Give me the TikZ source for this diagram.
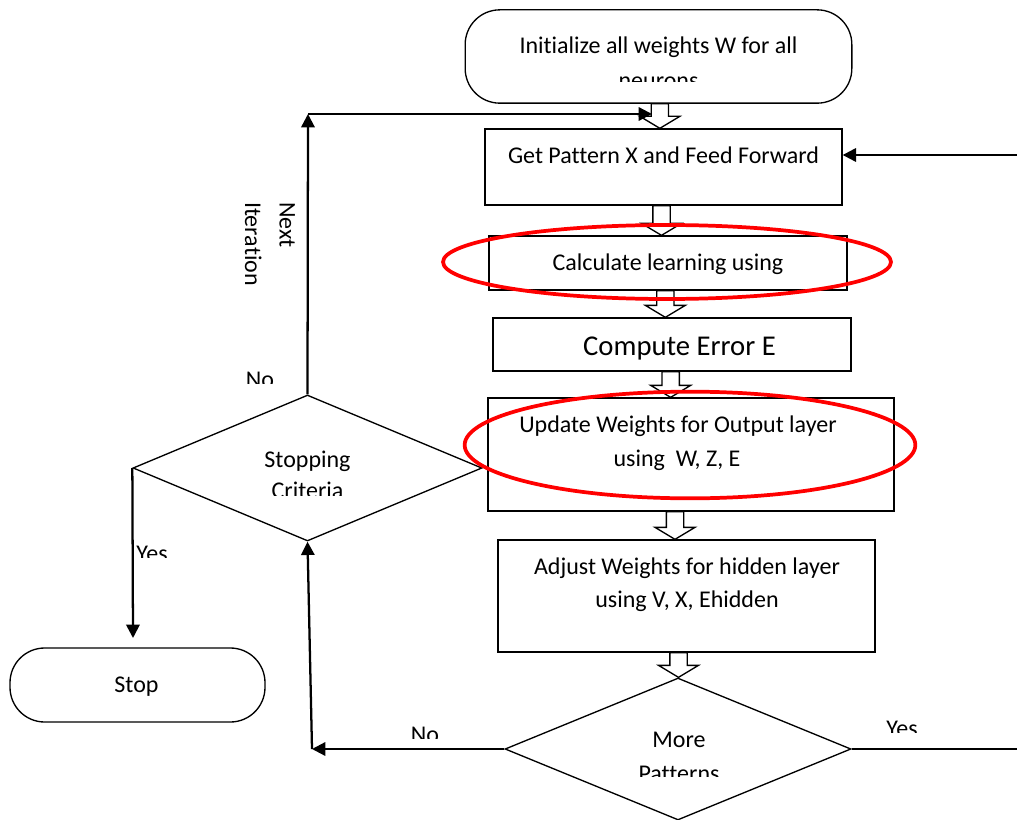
\documentclass[tikz,border=0pt]{standalone}
\usepackage{fontspec}
\setmainfont{Carlito}[Ligatures={NoCommon}]
\usetikzlibrary{shapes.geometric,arrows.meta,calc}

\tikzset{
  procbox/.style={draw, line width=1pt, inner sep=0pt, font=\fontsize{18}{26}\selectfont},
  termbox/.style={draw, line width=1pt, rounded corners=26pt, inner sep=0pt, font=\fontsize{18}{26}\selectfont},
  decision/.style={draw, diamond, line width=1pt, inner sep=0pt},
  txt/.style={anchor=base, inner sep=0pt, font=\fontsize{18}{26}\selectfont},
  flow/.style={line width=1.7pt, -{Triangle[length=10pt,width=10pt]}},
  plainflow/.style={line width=1.7pt},
  blockarr/.style={draw, line width=1pt, fill=white},
  redring/.style={draw=red, line width=2.8pt},
}

% hollow block arrow: #1 x offset, #2 upper node, #3 lower node
\newcommand{\hollowdown}[3]{%
  \draw[blockarr] let \p1=($(#2.south)+(#1,0pt)$), \p2=(#3.north) in
    (\x1-6.5pt,\y1) -- (\x1+6.5pt,\y1) -- (\x1+6.5pt,\y2+9pt) -- (\x1+15pt,\y2+9pt)
    -- (\x1,\y2) -- (\x1-15pt,\y2+9pt) -- (\x1-6.5pt,\y2+9pt) -- cycle;}

\begin{document}
\begin{tikzpicture}[x=0.75pt, y=-0.75pt]
\useasboundingbox (0,0) rectangle (1017,820);

% start box
\node[termbox, minimum width=290pt, minimum height=70pt] (init) at (658.5,56.5) {};
\node[txt] (initA) at (658.5,54) {Initialize all weights W for all};
\begin{scope}
  \clip (470,60) rectangle (850,82);
  \node[txt] (initB) at (658.5,89) {neurons};
\end{scope}

% process boxes
\node[procbox, minimum width=267.75pt, minimum height=57pt] (get) at (663.5,167) {};
\node[txt] (getT) at (663.5,164) {Get Pattern X and Feed Forward};

\node[procbox, minimum width=268.5pt, minimum height=40.5pt] (calc) at (668,263) {};
\node[txt] (calcT) at (668,270) {Calculate learning using};

\node[procbox, minimum width=268.5pt, minimum height=39.75pt] (comp) at (672,344.5) {};
\node[txt, font=\fontsize{21.5}{26}\selectfont] (compT) at (679.5,355) {Compute Error E};

\node[procbox, minimum width=304.5pt, minimum height=84.75pt] (upd) at (691,454.5) {};
\node[txt] (updA) at (678,432) {Update Weights for Output layer};
\node[txt] (updB) at (677,466) {using~~W, Z, E};

\node[procbox, minimum width=282.75pt, minimum height=84pt] (adj) at (686.5,596) {};
\node[txt] (adjA) at (687,574) {Adjust Weights for hidden layer};
\node[txt] (adjB) at (687,607) {using V, X, Ehidden};

% decisions
\node[decision, minimum width=261.75pt, minimum height=109.5pt] (crit) at (307.5,468) {};
\node[txt] (critA) at (307.5,467) {Stopping};
\begin{scope}
  \clip (200,470) rectangle (420,495);
  \node[txt] (critB) at (307.5,498) {Criteria};
\end{scope}

\node[decision, minimum width=259.5pt, minimum height=106.5pt] (more) at (678,749) {};
\node[txt] (moreA) at (679,747) {More};
\begin{scope}
  \clip (580,755) rectangle (780,776);
  \node[txt] (moreB) at (679,781) {Patterns};
\end{scope}

% stop box
\node[termbox, minimum width=191.25pt, minimum height=55.5pt] (stop) at (137.5,685) {};
\node[txt] (stopT) at (136.5,692) {Stop};

% block arrows between the steps
\hollowdown{1pt}{init}{get}
\hollowdown{-1.5pt}{get}{calc}
\hollowdown{-2pt}{calc}{comp}
\hollowdown{-1pt}{comp}{upd}
\hollowdown{-12pt}{upd}{adj}
\hollowdown{-6pt}{adj}{more}

% loop back
\coordinate (topL) at (308,114);
\coordinate (feedin) at (652,114);
\coordinate (loopR) at (1017,155);
\coordinate (moreR) at (1017,749);
\coordinate (moreL) at (312,749);
\coordinate (stopin) at (133,638);

\draw[flow] (crit.north) -- (topL);
\draw[flow] (topL) -- (feedin);
\draw[flow] (loopR) -- (loopR -| get.east);
\draw[plainflow] (more.east) -- (moreR);
\draw[flow] (more.west) -- (moreL);
\draw[flow] (moreL) -- (crit.south);
\draw[flow] (crit.west) -- (stopin);

% labels
\node[rotate=-90, align=left, inner sep=0pt, font=\fontsize{18}{26}\selectfont]
  (nextit) at (270,244) {Next\\Iteration};
\begin{scope}
  \clip (230,360) rectangle (290,383);
  \node[txt] (noTop) at (260,387) {No};
\end{scope}
\begin{scope}
  \clip (130,535) rectangle (180,557);
  \node[txt] (yesLeft) at (152,561) {Yes};
\end{scope}
\begin{scope}
  \clip (400,715) rectangle (450,738);
  \node[txt] (noBot) at (425,742) {No};
\end{scope}
\begin{scope}
  \clip (880,705) rectangle (930,732);
  \node[txt] (yesRight) at (902,736) {Yes};
\end{scope}

% highlight rings
\draw[redring] (667,262) ellipse [x radius=168pt, y radius=27.75pt];
\draw[redring] (690,445) ellipse [x radius=169pt, y radius=40pt];
\end{tikzpicture}
\end{document}
